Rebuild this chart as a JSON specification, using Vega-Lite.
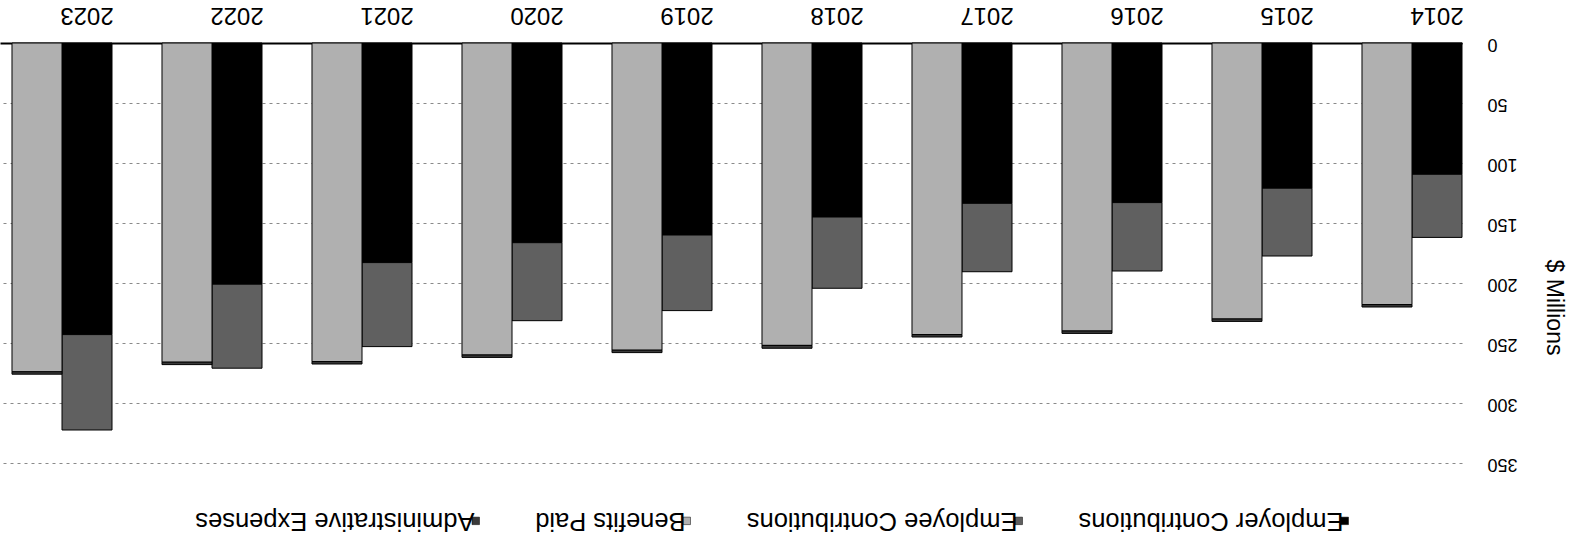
{
  "$schema": "https://vega.github.io/schema/vega-lite/v6.json",
  "width": 1462,
  "height": 420,
  "autosize": {"type": "none"},
  "padding": {"left": 0, "top": 43, "right": 112, "bottom": 77},
  "background": "#ffffff",
  "config": {
    "view": {"stroke": null},
    "font": "Liberation Sans"
  },
  "data": {
    "values": [
      {"year": "2014", "group": "Contributions", "series": "Employer Contributions", "value": 109.4},
      {"year": "2014", "group": "Contributions", "series": "Employee Contributions", "value": 52.6},
      {"year": "2014", "group": "Benefits", "series": "Benefits Paid", "value": 218},
      {"year": "2014", "group": "Benefits", "series": "Administrative Expenses", "value": 2},
      {"year": "2015", "group": "Contributions", "series": "Employer Contributions", "value": 121},
      {"year": "2015", "group": "Contributions", "series": "Employee Contributions", "value": 56.5},
      {"year": "2015", "group": "Benefits", "series": "Benefits Paid", "value": 230},
      {"year": "2015", "group": "Benefits", "series": "Administrative Expenses", "value": 2},
      {"year": "2016", "group": "Contributions", "series": "Employer Contributions", "value": 133},
      {"year": "2016", "group": "Contributions", "series": "Employee Contributions", "value": 57},
      {"year": "2016", "group": "Benefits", "series": "Benefits Paid", "value": 240},
      {"year": "2016", "group": "Benefits", "series": "Administrative Expenses", "value": 2},
      {"year": "2017", "group": "Contributions", "series": "Employer Contributions", "value": 133.6},
      {"year": "2017", "group": "Contributions", "series": "Employee Contributions", "value": 57},
      {"year": "2017", "group": "Benefits", "series": "Benefits Paid", "value": 243},
      {"year": "2017", "group": "Benefits", "series": "Administrative Expenses", "value": 2},
      {"year": "2018", "group": "Contributions", "series": "Employer Contributions", "value": 145},
      {"year": "2018", "group": "Contributions", "series": "Employee Contributions", "value": 59.4},
      {"year": "2018", "group": "Benefits", "series": "Benefits Paid", "value": 252},
      {"year": "2018", "group": "Benefits", "series": "Administrative Expenses", "value": 2.4},
      {"year": "2019", "group": "Contributions", "series": "Employer Contributions", "value": 160},
      {"year": "2019", "group": "Contributions", "series": "Employee Contributions", "value": 63},
      {"year": "2019", "group": "Benefits", "series": "Benefits Paid", "value": 256},
      {"year": "2019", "group": "Benefits", "series": "Administrative Expenses", "value": 2},
      {"year": "2020", "group": "Contributions", "series": "Employer Contributions", "value": 166.4},
      {"year": "2020", "group": "Contributions", "series": "Employee Contributions", "value": 65},
      {"year": "2020", "group": "Benefits", "series": "Benefits Paid", "value": 260},
      {"year": "2020", "group": "Benefits", "series": "Administrative Expenses", "value": 2},
      {"year": "2021", "group": "Contributions", "series": "Employer Contributions", "value": 183},
      {"year": "2021", "group": "Contributions", "series": "Employee Contributions", "value": 70},
      {"year": "2021", "group": "Benefits", "series": "Benefits Paid", "value": 265.5},
      {"year": "2021", "group": "Benefits", "series": "Administrative Expenses", "value": 2},
      {"year": "2022", "group": "Contributions", "series": "Employer Contributions", "value": 201},
      {"year": "2022", "group": "Contributions", "series": "Employee Contributions", "value": 70},
      {"year": "2022", "group": "Benefits", "series": "Benefits Paid", "value": 266},
      {"year": "2022", "group": "Benefits", "series": "Administrative Expenses", "value": 2},
      {"year": "2023", "group": "Contributions", "series": "Employer Contributions", "value": 243},
      {"year": "2023", "group": "Contributions", "series": "Employee Contributions", "value": 79.5},
      {"year": "2023", "group": "Benefits", "series": "Benefits Paid", "value": 274},
      {"year": "2023", "group": "Benefits", "series": "Administrative Expenses", "value": 2}
    ]
  },
  "mark": {"type": "bar", "stroke": "#000000", "strokeWidth": 1},
  "encoding": {
    "x": {
      "field": "year",
      "type": "nominal",
      "sort": "descending",
      "scale": {"paddingInner": 0.33333, "paddingOuter": 0.04, "align": 1},
      "axis": {
        "orient": "top",
        "title": null,
        "labelAngle": 180,
        "labelAlign": "center",
        "labelBaseline": "alphabetic",
        "labelFontSize": 24,
        "labelColor": "#000000",
        "labelPadding": 36,
        "labelOffset": 25,
        "ticks": false,
        "tickSize": 0,
        "domain": true,
        "domainColor": "#000000",
        "domainWidth": 2,
        "grid": false
      }
    },
    "xOffset": {
      "field": "group",
      "type": "nominal",
      "sort": ["Benefits", "Contributions"],
      "scale": {"paddingInner": 0, "paddingOuter": 0}
    },
    "y": {
      "field": "value",
      "type": "quantitative",
      "stack": "zero",
      "scale": {"domain": [0, 350], "reverse": true, "nice": false},
      "axis": {
        "orient": "right",
        "title": "$ Millions",
        "values": [0, 50, 100, 150, 200, 250, 300, 350],
        "labelAngle": 180,
        "labelAlign": "right",
        "labelBaseline": "middle",
        "labelPadding": 25,
        "labelFontSize": 18,
        "labelColor": "#000000",
        "ticks": false,
        "tickSize": 0,
        "domain": false,
        "grid": true,
        "gridDash": [3, 4],
        "gridColor": "#8a8a8a",
        "gridWidth": 1,
        "titleAngle": 90,
        "titleX": 91,
        "titleY": 264,
        "titleAlign": "center",
        "titleBaseline": "middle",
        "titleFontSize": 23,
        "titleFontWeight": "normal",
        "titleColor": "#000000"
      }
    },
    "color": {
      "field": "series",
      "type": "nominal",
      "scale": {
        "domain": ["Administrative Expenses", "Benefits Paid", "Employee Contributions", "Employer Contributions"],
        "range": ["#3a3a3a", "#b0b0b0", "#606060", "#000000"]
      },
      "legend": {
        "orient": "none",
        "legendX": 463,
        "legendY": 465,
        "direction": "horizontal",
        "title": null,
        "padding": 0,
        "labelFontSize": 25.5,
        "labelColor": "#000000",
        "labelLimit": 0,
        "labelAlign": "left",
        "labelBaseline": "middle",
        "labelOffset": -14,
        "symbolType": "square",
        "symbolSize": 56,
        "symbolStrokeColor": "#000000",
        "symbolStrokeWidth": 0.5,
        "columnPadding": 54,
        "encoding": {"labels": {"angle": {"value": 180}}}
      }
    },
    "order": {"field": "series", "sort": "descending"}
  }
}
